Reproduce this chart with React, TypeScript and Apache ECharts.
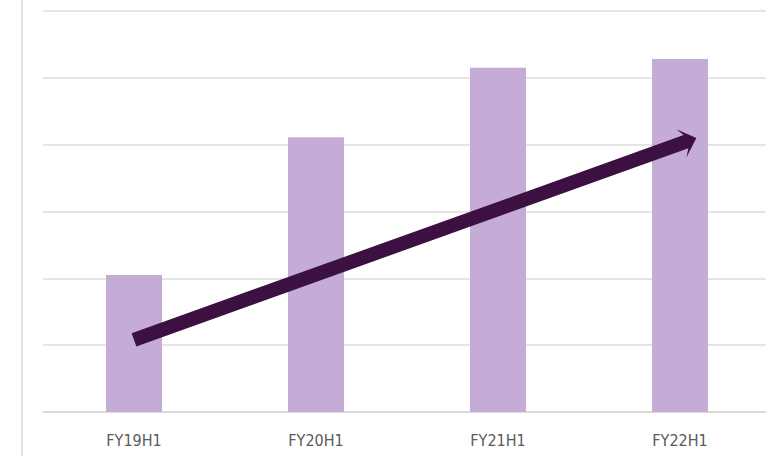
import React, { useEffect, useRef } from "react";
import * as echarts from "echarts";

// Half-year periods and the bar heights for each
const periods = ["FY19H1", "FY20H1", "FY21H1", "FY22H1"];
const barValues = [2.05, 4.11, 5.15, 5.28];

// Trend arrow: start and tip, as [period position, value]
const trendStart = [0.0, 1.08];
const trendTip = [3.09, 4.1];

export default function App() {
  const ref = useRef<HTMLDivElement>(null);

  useEffect(() => {
    document.documentElement.style.overflow = "hidden";
    document.body.style.margin = "0";
    document.body.style.overflow = "hidden";
    const chart = echarts.init(ref.current!, null, { renderer: "svg" });

    const option: echarts.EChartsOption = {
      animation: false,
      backgroundColor: "#ffffff",
      // plot area runs past the right edge of the visible frame
      grid: { left: 43, right: 29, top: 11, bottom: 44 },
      xAxis: [
        {
          type: "category",
          data: periods,
          axisLine: { show: true, lineStyle: { color: "#d6d6d6", width: 1.5 } },
          axisTick: { show: false },
          axisLabel: {
            color: "#5a5a5a",
            fontFamily: "'Liberation Sans Narrow', 'Arial Narrow', 'DejaVu Sans Condensed', sans-serif",
            fontSize: 16,
            margin: 20,
          },
        },
        {
          type: "value",
          min: -0.5,
          max: 3.5,
          show: false,
        },
      ],
      yAxis: {
        type: "value",
        min: 0,
        max: 6,
        interval: 1,
        axisLabel: { show: false },
        axisLine: { show: false },
        axisTick: { show: false },
        splitLine: { lineStyle: { color: "#dcdcdc", width: 1.5 } },
      },
      graphic: [
        {
          type: "line",
          shape: { x1: 22, y1: 0, x2: 22, y2: 456 },
          style: { stroke: "#e2e2e2", lineWidth: 2 },
          silent: true,
        },
      ],
      series: [
        {
          type: "bar",
          data: barValues,
          barWidth: 56,
          itemStyle: { color: "#c4acd6" },
        },
        {
          type: "custom",
          xAxisIndex: 1,
          yAxisIndex: 0,
          data: [[trendStart[0], trendStart[1], trendTip[0], trendTip[1]]],
          z: 10,
          renderItem: (params: any, api: any) => {
            const p0 = api.coord([api.value(0), api.value(1)]);
            const p1 = api.coord([api.value(2), api.value(3)]);
            const dx = p1[0] - p0[0];
            const dy = p1[1] - p0[1];
            const len = Math.sqrt(dx * dx + dy * dy);
            const d = [dx / len, dy / len];
            const n = [-d[1], d[0]];
            const shaft = 7;
            const headHalf = 15;
            const neck = 11;
            const barb = 16;
            const at = (along: number, across: number) => [
              p1[0] + d[0] * along + n[0] * across,
              p1[1] + d[1] * along + n[1] * across,
            ];
            const start = (across: number) => [
              p0[0] + n[0] * across,
              p0[1] + n[1] * across,
            ];
            const points = [
              start(shaft),
              at(-neck, shaft),
              at(-barb, headHalf),
              [p1[0], p1[1]],
              at(-barb, -headHalf),
              at(-neck, -shaft),
              start(-shaft),
            ];
            return {
              type: "polygon",
              shape: { points },
              style: { fill: "#3d1042" },
            };
          },
        },
      ],
    };

    chart.setOption(option);
    return () => chart.dispose();
  }, []);

  return (
    <div style={{ width: 766, height: 456, overflow: "hidden" }}>
      <div ref={ref} style={{ width: 800, height: 456 }} />
    </div>
  );
}
